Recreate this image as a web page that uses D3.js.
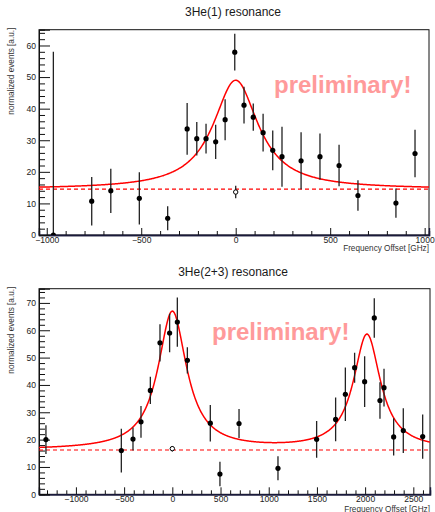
<!DOCTYPE html>
<html>
<head>
<meta charset="utf-8">
<script src="https://cdn.jsdelivr.net/npm/d3@7/dist/d3.min.js"></script>
<style>
  html, body { margin: 0; padding: 0; background: #fff; }
  svg { display: block; font-family: "Liberation Sans", Arial, sans-serif; }
</style>
</head>
<body>
<svg id="chart" width="435" height="512"></svg>
<script>
// ---- 3He(1) resonance ----
const freq1   = [-965, -762, -661, -510, -360, -257, -206, -157, -106, -56, -5, 44, 93, 145, 196, 245, 346, 446, 547, 647, 848, 949];
const counts1 = [0, 10.7, 14.0, 11.6, 5.3, 33.6, 30.5, 30.5, 29.5, 36.5, 57.9, 41.1, 37.3, 32.4, 26.8, 24.8, 23.5, 24.8, 22.0, 12.5, 10.1, 25.8];
const errs1   = [58, 7.7, 7.0, 8.3, 3.8, 8.2, 5.3, 4.7, 5.4, 6.5, 5.8, 5.8, 4.3, 6.0, 6.3, 9.5, 9.0, 7.3, 6.6, 4.8, 4.6, 7.5];
const bgPoint1 = { f: 0, v: 13.6, e: 2.0 };
// Lorentzian fit: baseline + [amplitude, centre, half width]
const base1  = 14.5;
const peaks1 = [[34.5, 0, 145]];
const xTicks1 = [-1000, -500, 0, 500, 1000];
const yTicks1 = [0, 10, 20, 30, 40, 50, 60];

// ---- 3He(2+3) resonance ----
const freq2   = [-1311, -529, -408, -325, -228, -128, -28, 52, 156, 394, 494, 692, 1096, 1497, 1694, 1795, 1891, 1995, 2095, 2154, 2196, 2296, 2396, 2597];
const counts2 = [20.0, 16.0, 20.2, 26.5, 38.0, 55.4, 59.0, 63.0, 49.0, 26.0, 7.4, 25.9, 9.5, 20.1, 27.4, 36.6, 46.3, 41.2, 64.5, 34.3, 39.0, 21.0, 23.3, 21.1];
const errs2   = [5.3, 8.0, 4.2, 5.8, 5.0, 6.8, 7.0, 9.0, 4.8, 6.7, 4.5, 5.3, 4.4, 6.7, 8.0, 9.8, 5.5, 9.3, 7.2, 6.7, 6.9, 6.8, 8.2, 8.1];
const bgPoint2 = { f: 0, v: 16.7, e: 1.0 };
const base2  = 16.2;
const peaks2 = [[50.5, 0, 180], [42.0, 2019, 170]];
const xTicks2 = [-1000, -500, 0, 500, 1000, 1500, 2000, 2500];
const yTicks2 = [0, 10, 20, 30, 40, 50, 60, 70];

const svg = d3.select("#chart");

function lorentz(base, peaks) {
  return f => base + d3.sum(peaks, p => p[0] / (1 + ((f - p[1]) / p[2]) ** 2));
}

function panel(opt) {
  const g = svg.append("g");
  const x = d3.scaleLinear().domain(opt.xDomain).range([opt.left, opt.right]);
  const y = d3.scaleLinear().domain(opt.yDomain).range([opt.bottom, opt.top]);

  // title
  g.append("text")
    .attr("x", opt.titleX).attr("y", opt.titleY)
    .attr("text-anchor", "middle")
    .attr("font-size", 12).attr("fill", "#1a1a1a")
    .text(opt.title);

  // frame
  g.append("rect")
    .attr("x", opt.left).attr("y", opt.top)
    .attr("width", opt.right - opt.left).attr("height", opt.bottom - opt.top)
    .attr("fill", "none").attr("stroke", "#111").attr("stroke-width", 1);

  // x axis: minor ticks every 100, major every 500, drawn inward
  const xMinor = d3.range(Math.ceil(opt.xDomain[0] / 100) * 100, opt.xDomain[1] + 1, 100)
    .filter(v => !opt.xTicks.includes(v));
  const xAxisMinor = d3.axisBottom(x).tickValues(xMinor).tickSize(-4).tickFormat("");
  const xAxis = d3.axisBottom(x).tickValues(opt.xTicks).tickSize(-7).tickPadding(1.5)
    .tickFormat(d3.format("d"));
  [xAxisMinor, xAxis].forEach(ax => {
    const a = g.append("g").attr("transform", `translate(0,${opt.bottom})`).call(ax);
    a.select(".domain").attr("stroke", "#1a1a3a").attr("stroke-width", 1.4);
    a.selectAll(".tick line").attr("stroke", "#111").attr("stroke-width", 1);
    a.selectAll("text").attr("font-size", 8.6).attr("fill", "#222")
      .attr("font-family", "Liberation Sans, Arial, sans-serif");
  });

  // y axis: 5 subdivisions per major
  const yMinor = d3.range(opt.yDomain[0], opt.yDomain[1] + 0.01, 2)
    .filter(v => !opt.yTicks.includes(v));
  const yAxisMinor = d3.axisLeft(y).tickValues(yMinor).tickSize(-6).tickFormat("");
  const yAxis = d3.axisLeft(y).tickValues(opt.yTicks).tickSize(-11).tickPadding(3);
  [yAxisMinor, yAxis].forEach(ax => {
    const a = g.append("g").attr("transform", `translate(${opt.left},0)`).call(ax);
    a.select(".domain").attr("stroke", "#111");
    a.selectAll(".tick line").attr("stroke", "#111").attr("stroke-width", 1);
    a.selectAll("text").attr("font-size", 8.6).attr("fill", "#222")
      .attr("font-family", "Liberation Sans, Arial, sans-serif");
  });

  // axis titles
  g.append("text")
    .attr("x", opt.right).attr("y", opt.xLabelY)
    .attr("text-anchor", "end").attr("font-size", 8.2).attr("fill", "#333")
    .text("Frequency Offset [GHz]");
  g.append("text")
    .attr("transform", `translate(${opt.yLabelX},${opt.top - 2}) rotate(-90)`)
    .attr("text-anchor", "end").attr("font-size", 8.2).attr("fill", "#333")
    .text("normalized events [a.u.]");

  // watermark
  g.append("text")
    .attr("x", opt.watermark[0]).attr("y", opt.watermark[1])
    .attr("font-size", 24).attr("font-weight", "bold").attr("fill", "#ff9a9a")
    .text("preliminary!");

  const clip = "clip" + opt.id;
  svg.append("clipPath").attr("id", clip).append("rect")
    .attr("x", opt.left).attr("y", opt.top)
    .attr("width", opt.right - opt.left).attr("height", opt.bottom - opt.top);

  // fit curve and baseline
  const fit = lorentz(opt.base, opt.peaks);
  const fs = d3.range(opt.xDomain[0], opt.xDomain[1] + 1, 4);
  g.append("path")
    .datum(fs)
    .attr("clip-path", `url(#${clip})`)
    .attr("fill", "none").attr("stroke", "#ff0000").attr("stroke-width", 1.5)
    .attr("d", d3.line().x(f => x(f)).y(f => y(fit(f))));
  g.append("line")
    .attr("x1", opt.left).attr("x2", opt.right)
    .attr("y1", y(opt.base)).attr("y2", y(opt.base))
    .attr("stroke", "#ff0000").attr("stroke-width", 1.2).attr("stroke-dasharray", "4,3");

  // data with error bars
  const pts = opt.freq.map((f, i) => ({ f, v: opt.counts[i], e: opt.errs[i] }));
  const pg = g.append("g").attr("clip-path", `url(#${clip})`);
  pg.selectAll("line.err").data(pts.concat([opt.bg])).join("line")
    .attr("class", "err")
    .attr("x1", d => x(d.f)).attr("x2", d => x(d.f))
    .attr("y1", d => y(Math.max(0, d.v - d.e))).attr("y2", d => y(d.v + d.e))
    .attr("stroke", "#222").attr("stroke-width", 1.3);
  pg.selectAll("circle.pt").data(pts).join("circle")
    .attr("class", "pt")
    .attr("cx", d => x(d.f)).attr("cy", d => y(d.v)).attr("r", 2.6)
    .attr("fill", "#000");
  pg.append("circle")
    .attr("cx", x(opt.bg.f)).attr("cy", y(opt.bg.v)).attr("r", 2.2)
    .attr("fill", "#fff").attr("stroke", "#000").attr("stroke-width", 1);
}

panel({
  id: 1, title: "3He(1) resonance", titleX: 233, titleY: 16,
  left: 39, right: 429, top: 29.7, bottom: 235,
  xDomain: [-1041, 1023], yDomain: [0, 65],
  xTicks: xTicks1, yTicks: yTicks1,
  xLabelY: 251, yLabelX: 14,
  watermark: [274, 92.5],
  freq: freq1, counts: counts1, errs: errs1, bg: bgPoint1,
  base: base1, peaks: peaks1
});

panel({
  id: 2, title: "3He(2+3) resonance", titleX: 233, titleY: 276,
  left: 39, right: 430, top: 288.7, bottom: 494.3,
  xDomain: [-1383, 2673], yDomain: [0, 75.2],
  xTicks: xTicks2, yTicks: yTicks2,
  xLabelY: 511.5, yLabelX: 14,
  watermark: [212, 340.3],
  freq: freq2, counts: counts2, errs: errs2, bg: bgPoint2,
  base: base2, peaks: peaks2
});
</script>
</body>
</html>
